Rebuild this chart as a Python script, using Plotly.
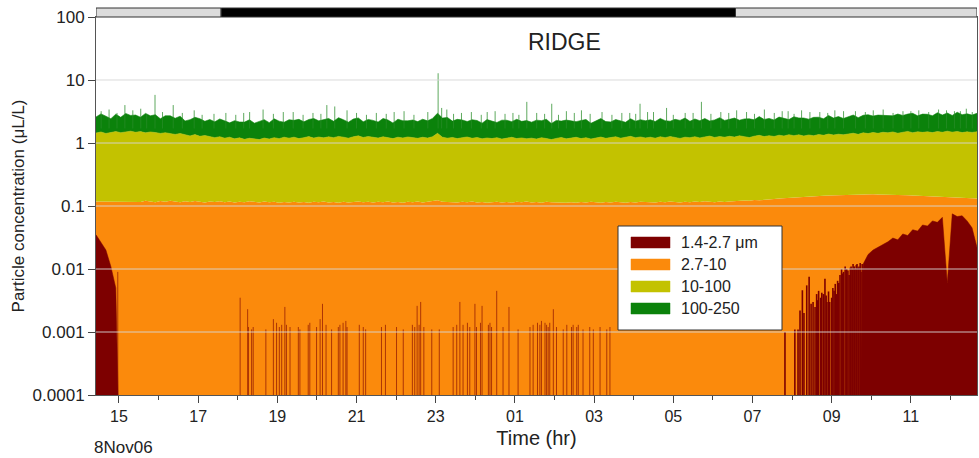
import numpy as np
import plotly.graph_objects as go

# ---------------------------------------------------------------------------
# Data: particle volume concentration by size class (uL/L), RIDGE site,
# 8 Nov 2006 14:25 to 9 Nov 12:40. Time in hours from midnight 8 Nov.
# ---------------------------------------------------------------------------
t_start, t_step, n_samples = 14.42, 0.125, 179
hours = t_start + t_step * np.arange(n_samples)

# 1.4-2.7 um (continuous episodes; isolated counts listed separately)
red_v = [
    0.035, 0.026, 0.02, 0.011, 0.005, 0, 0, 0,
    0, 0, 0, 0, 0, 0, 0, 0,
    0, 0, 0, 0, 0, 0, 0, 0,
    0, 0, 0, 0, 0, 0, 0, 0,
    0, 0, 0, 0, 0, 0, 0, 0,
    0, 0, 0, 0, 0, 0, 0, 0,
    0, 0, 0, 0, 0, 0, 0, 0,
    0, 0, 0, 0, 0, 0, 0, 0,
    0, 0, 0, 0, 0, 0, 0, 0,
    0, 0, 0, 0, 0, 0, 0, 0,
    0, 0, 0, 0, 0, 0, 0, 0,
    0, 0, 0, 0, 0, 0, 0, 0,
    0, 0, 0, 0, 0, 0, 0, 0,
    0, 0, 0, 0, 0, 0, 0, 0,
    0, 0, 0, 0, 0, 0, 0, 0,
    0, 0, 0, 0, 0, 0, 0, 0,
    0, 0, 0, 0, 0, 0, 0, 0,
    0, 0, 0, 0, 0, 0, 0, 0,
    0, 0, 0, 0, 0, 0, 0, 0,
    0, 0, 0, 0.012, 0.017, 0.02, 0.022, 0.024,
    0.027, 0.031, 0.029, 0.036, 0.034, 0.042, 0.04, 0.05,
    0.048, 0.058, 0.055, 0.066, 0.006, 0.075, 0.068, 0.07,
    0.058, 0.045, 0.022,
]

# 2.7-10 um
orange_v = [
    0.083, 0.092, 0.098, 0.107, 0.113, 0.118, 0.116, 0.119,
    0.119, 0.116, 0.121, 0.118, 0.115, 0.12, 0.117, 0.121,
    0.118, 0.115, 0.119, 0.116, 0.12, 0.117, 0.114, 0.118,
    0.116, 0.119, 0.115, 0.118, 0.114, 0.117, 0.115, 0.119,
    0.116, 0.114, 0.118, 0.115, 0.117, 0.113, 0.116, 0.114,
    0.117, 0.114, 0.116, 0.113, 0.117, 0.115, 0.118, 0.114,
    0.116, 0.113, 0.117, 0.114, 0.116, 0.118, 0.115, 0.117,
    0.114, 0.117, 0.115, 0.118, 0.114, 0.116, 0.113, 0.117,
    0.115, 0.118, 0.114, 0.116, 0.119, 0.123, 0.117, 0.115,
    0.116, 0.114, 0.117, 0.115, 0.118, 0.114, 0.116, 0.113,
    0.115, 0.117, 0.114, 0.116, 0.113, 0.117, 0.115, 0.118,
    0.114, 0.116, 0.113, 0.117, 0.115, 0.114, 0.116, 0.113,
    0.115, 0.113, 0.116, 0.114, 0.117, 0.115, 0.113, 0.116,
    0.114, 0.117, 0.115, 0.113, 0.116, 0.114, 0.117, 0.115,
    0.116, 0.114, 0.117, 0.115, 0.118, 0.116, 0.114, 0.117,
    0.115, 0.118, 0.116, 0.119, 0.117, 0.115, 0.118, 0.116,
    0.118, 0.12, 0.119, 0.122, 0.121, 0.124, 0.123, 0.126,
    0.127, 0.129, 0.131, 0.133, 0.135, 0.137, 0.139, 0.141,
    0.142, 0.144, 0.145, 0.146, 0.147, 0.148, 0.149, 0.15,
    0.149, 0.15, 0.151, 0.14, 0.135, 0.133, 0.13, 0.128,
    0.124, 0.119, 0.121, 0.113, 0.114, 0.105, 0.106, 0.095,
    0.096, 0.085, 0.087, 0.074, 0.133, 0.063, 0.068, 0.065,
    0.076, 0.088, 0.11,
]

# 10-100 um
yellow_v = [
    1.32, 1.38, 1.30, 1.36, 1.40, 1.34, 1.38, 1.42,
    1.36, 1.40, 1.33, 1.38, 1.35, 1.30, 1.34, 1.28,
    1.25, 1.30, 1.22, 1.18, 1.24, 1.16, 1.20, 1.14,
    1.10, 1.14, 1.08, 1.12, 1.05, 1.09, 1.03, 1.07,
    1.05, 1.02, 1.08, 1.04, 1.10, 1.06, 1.12, 1.08,
    1.12, 1.06, 1.10, 1.15, 1.08, 1.13, 1.09, 1.14,
    1.10, 1.16, 1.12, 1.08, 1.14, 1.18, 1.11, 1.15,
    1.12, 1.08, 1.14, 1.10, 1.06, 1.12, 1.09, 1.13,
    1.10, 1.07, 1.12, 1.08, 1.14, 1.30, 1.12, 1.08,
    1.11, 1.06, 1.10, 1.13, 1.07, 1.11, 1.05, 1.09,
    1.06, 1.10, 1.04, 1.08, 1.12, 1.06, 1.09, 1.05,
    1.08, 1.04, 1.10, 1.06, 1.02, 1.07, 1.11, 1.05,
    1.08, 1.12, 1.06, 1.10, 1.04, 1.09, 1.13, 1.07,
    1.10, 1.14, 1.08, 1.12, 1.16, 1.10, 1.13, 1.09,
    1.12, 1.08, 1.14, 1.10, 1.15, 1.11, 1.07, 1.12,
    1.10, 1.14, 1.09, 1.13, 1.17, 1.11, 1.15, 1.12,
    1.16, 1.12, 1.18, 1.14, 1.10, 1.16, 1.20, 1.14,
    1.18, 1.14, 1.20, 1.16, 1.22, 1.17, 1.21, 1.15,
    1.20, 1.16, 1.22, 1.18, 1.24, 1.19, 1.23, 1.20,
    1.24, 1.28, 1.22, 1.30, 1.26, 1.32, 1.27, 1.33,
    1.30, 1.35, 1.28, 1.34, 1.38, 1.31, 1.36, 1.33,
    1.36, 1.32, 1.38, 1.34, 1.40, 1.35, 1.39, 1.33,
    1.37, 1.34, 1.38,
]

# 100-250 um
green_v = [
    1.15, 1.40, 1.25, 0.95, 1.35, 1.10, 1.45, 1.20,
    1.30, 1.05, 1.50, 1.20, 1.35, 1.00, 1.25, 1.30,
    1.10, 1.25, 0.90, 1.05, 1.20, 1.15, 0.90, 1.10,
    0.95, 1.15, 1.05, 0.85, 1.10, 0.95, 1.00, 1.15,
    0.90, 1.10, 1.15, 0.95, 1.20, 1.05, 0.90, 1.15,
    1.05, 1.20, 0.95, 1.10, 1.25, 1.00, 1.15, 1.20,
    1.00, 1.25, 1.10, 0.95, 1.15, 1.20, 0.95, 1.10,
    1.05, 0.95, 1.20, 1.10, 0.90, 1.15, 1.05, 1.00,
    1.10, 1.00, 1.15, 1.05, 1.20, 1.55, 1.25, 1.35,
    1.00, 1.20, 1.10, 0.95, 1.15, 1.05, 0.90, 1.15,
    1.05, 0.90, 1.15, 1.10, 0.95, 1.20, 1.00, 1.10,
    0.95, 1.15, 1.05, 1.20, 0.90, 1.10, 1.00, 1.15,
    1.05, 0.95, 1.10, 1.15, 0.90, 1.05, 1.20, 1.00,
    0.95, 1.10, 1.05, 0.90, 1.15, 1.00, 1.10, 1.05,
    1.10, 1.00, 1.20, 1.05, 0.95, 1.15, 1.10, 1.25,
    1.00, 1.15, 1.05, 1.20, 0.95, 1.10, 1.25, 1.05,
    1.10, 1.25, 1.00, 1.15, 1.20, 1.05, 1.30, 1.10,
    1.15, 1.05, 1.25, 1.20, 1.00, 1.30, 1.15, 1.20,
    1.05, 1.25, 1.20, 1.10, 1.35, 1.15, 1.25, 1.10,
    1.20, 1.35, 1.15, 1.30, 1.40, 1.20, 1.35, 1.25,
    1.30, 1.20, 1.45, 1.25, 1.35, 1.50, 1.20, 1.40,
    1.35, 1.25, 1.50, 1.30, 1.45, 1.25, 1.55, 1.35,
    1.40, 1.30, 1.45,
]

# Isolated 1.4-2.7 um detections during the night (time, concentration)
red_spike_t = [
    18.06, 18.25, 18.27, 18.35, 18.39, 18.71, 18.90, 18.98, 19.05, 19.11,
    19.19, 19.23, 19.32, 19.53, 19.57, 19.78, 19.82, 19.99, 20.08, 20.14,
    20.23, 20.37, 20.54, 20.58, 20.66, 20.73, 20.76, 21.07, 21.17, 21.23,
    21.63, 21.73, 22.01, 22.18, 22.41, 22.47, 22.53, 22.58, 22.62, 22.70,
    22.90, 23.09, 23.44, 23.53, 23.61, 23.69, 23.80, 23.86, 23.99, 24.03,
    24.13, 24.17, 24.33, 24.37, 24.41, 24.54, 24.70, 24.85, 25.08, 25.38,
    25.46, 25.57, 25.63, 25.67, 25.76, 25.80, 25.84, 25.88, 25.97, 26.05,
    26.22, 26.31, 26.43, 26.47, 26.56, 26.60, 26.72, 26.89, 26.98, 27.15,
    27.32, 27.40, 14.97,
]
red_spike_v = [
    0.0035, 0.0023, 0.0012, 0.0011, 0.0012, 0.0011, 0.0016, 0.0014, 0.0012, 0.0013,
    0.0025, 0.0013, 0.0012, 0.0012, 0.0011, 0.0013, 0.0014, 0.0012, 0.0016, 0.0028,
    0.0013, 0.0011, 0.0012, 0.0013, 0.0014, 0.0015, 0.0012, 0.0013, 0.0012, 0.0011,
    0.0012, 0.0013, 0.0012, 0.0011, 0.0013, 0.0012, 0.0026, 0.0013, 0.0030, 0.0012,
    0.0011, 0.0011, 0.0012, 0.0013, 0.0030, 0.0013, 0.0014, 0.0012, 0.0028, 0.0012,
    0.0014, 0.0026, 0.0013, 0.0014, 0.0012, 0.0045, 0.0012, 0.0025, 0.0011, 0.0012,
    0.0013, 0.0014, 0.0013, 0.0015, 0.0014, 0.0013, 0.0012, 0.0014, 0.0023, 0.0012,
    0.0011, 0.0013, 0.0012, 0.0013, 0.0012, 0.0013, 0.0011, 0.0012, 0.0011, 0.0012,
    0.0011, 0.0012, 0.0090,
]

# Morning onset of 1.4-2.7 um particles (time, concentration)
dawn_spike_t = [
    31.82, 32.07, 32.15, 32.20, 32.26, 32.30, 32.37, 32.43, 32.48, 32.53,
    32.58, 32.62, 32.64, 32.67, 32.72, 32.75, 32.79, 32.83, 32.86, 32.88,
    32.92, 32.95, 33.00, 33.03, 33.06, 33.09, 33.12, 33.15, 33.18, 33.21,
    33.25, 33.28, 33.30, 33.34, 33.38, 33.41, 33.44, 33.47, 33.49, 33.52,
    33.54, 33.57, 33.59, 33.62, 33.64, 33.67, 33.69, 33.72, 33.74, 33.77,
]
dawn_spike_v = [
    0.0010, 0.0011, 0.0011, 0.0022, 0.0046, 0.0020, 0.0055, 0.0075, 0.0028, 0.0030,
    0.0025, 0.0040, 0.0032, 0.0045, 0.0035, 0.0042, 0.0040, 0.0070, 0.0038, 0.0030,
    0.0044, 0.0030, 0.0035, 0.0050, 0.0045, 0.0058, 0.0040, 0.0065, 0.0060, 0.0080,
    0.0100, 0.0085, 0.0090, 0.0110, 0.0100, 0.0095, 0.0080, 0.0105, 0.0110, 0.0098,
    0.0120, 0.0110, 0.0100, 0.0115, 0.0120, 0.0105, 0.0110, 0.0125, 0.0090, 0.0120,
]

# Short bursts in total concentration (time, total uL/L)
green_spike_t = [
    14.75, 15.15, 15.55, 15.91, 16.37, 16.9, 17.7, 18.3, 18.64, 19.4,
    20.25, 20.45, 20.76, 21.5, 22.2, 22.8, 23.06, 23.15, 23.28, 23.9,
    24.5, 24.95, 25.30, 25.93, 26.3, 26.68, 27.2, 27.7, 28.16, 28.5,
    28.83, 29.3, 29.71, 30.2, 30.6, 31.3, 31.9, 32.24, 32.7, 33.08,
    33.6, 34.3, 34.8, 35.2, 35.7, 36.1, 36.4,
    14.55, 14.95, 15.35, 15.7, 16.1, 16.6, 17.1, 17.4, 17.95, 18.15,
    18.9, 19.15, 19.65, 19.9, 20.1, 21.0, 21.25, 21.75, 21.95, 22.45,
    23.45, 23.65, 24.15, 24.3, 24.75, 25.1, 25.55, 25.75, 26.1, 26.5,
    26.9, 27.45, 27.9, 28.05, 28.35, 29.0, 29.5, 29.95, 30.4, 30.85,
    31.05, 31.55, 31.75, 32.05, 32.45, 32.9, 33.3, 33.85, 34.05, 34.55,
    35.0, 35.45, 35.9, 36.25, 36.55,
]
green_spike_total = [
    3.4, 4.0, 3.5, 5.8, 4.0, 3.3, 3.0, 3.1, 3.4, 3.1,
    4.0, 3.8, 3.3, 3.0, 3.2, 3.1, 12.8, 3.6, 3.4, 3.1,
    3.2, 3.0, 4.5, 4.2, 3.2, 3.3, 3.1, 3.0, 4.2, 3.1,
    3.6, 3.0, 4.5, 3.1, 3.3, 3.4, 3.2, 3.3, 3.1, 3.3,
    3.2, 3.4, 3.2, 3.3, 3.4, 3.2, 3.5,
    3.2, 3.0, 3.3, 2.9, 3.1, 3.0, 2.8, 2.9, 2.8, 3.0,
    2.9, 3.1, 2.8, 3.0, 2.9, 3.0, 2.8, 2.9, 3.1, 2.8,
    2.9, 3.0, 2.8, 3.1, 2.9, 2.8, 3.0, 2.9, 2.8, 3.0,
    2.9, 2.8, 3.0, 2.9, 3.1, 2.8, 3.0, 2.9, 3.0, 3.1,
    2.9, 3.0, 3.2, 2.9, 3.1, 3.0, 3.2, 3.1, 3.3, 3.0,
    3.2, 3.1, 3.3, 3.2, 3.1,
]

size_classes = ["1.4-2.7 \u03bcm", "2.7-10", "10-100", "100-250"]
class_colors = ["#7d0000", "#fb8a0c", "#c3c200", "#0b820b"]

x_range = [14.42, 36.67]
x_tickvals = [15, 17, 19, 21, 23, 25, 27, 29, 31, 33, 35]
x_ticktext = ["15", "17", "19", "21", "23", "01", "03", "05", "07", "09", "11"]
x_minor = [16, 18, 20, 22, 24, 26, 28, 30, 32, 34, 36]
y_tickvals = [0.0001, 0.001, 0.01, 0.1, 1, 10, 100]
y_ticktext = ["0.0001", "0.001", "0.01", "0.1", "1", "10", "100"]

# Dark period (sunset / sunrise), hours
night_start, night_end = 17.58, 30.57

# ---------------------------------------------------------------------------
FONT = "Arial, 'Liberation Sans', sans-serif"
W, H = 979, 458
ML, MR, MT, MB = 96, 2, 17, 63
PW, PH = W - ML - MR, H - MT - MB


def px_x(px):
    return (px - ML) / PW


def px_y(py):
    return (H - MB - py) / PH


red = np.array(red_v)
orange_top = red + np.array(orange_v)
yellow_top = orange_top + np.array(yellow_v)
green_top = yellow_top + np.array(green_v)
floor = np.full(n_samples, 1e-6)
red_draw = np.where(red > 0, red, 1e-6)

fig = go.Figure()


def base_trace():
    return go.Scatter(x=hours, y=floor, mode="lines", line=dict(width=0),
                      showlegend=False, hoverinfo="skip")


def stroke_paths(ts, lows, highs):
    xs, ys = [], []
    for t, lo, hi in zip(ts, lows, highs):
        xs += [t, t, None]
        ys += [lo, hi, None]
    return xs, ys


fig.add_trace(base_trace())
fig.add_trace(go.Scatter(x=hours, y=orange_top, mode="lines", fill="tonexty",
                         fillcolor=class_colors[1], line=dict(width=0, color=class_colors[1]),
                         name=size_classes[1], showlegend=False))
fig.add_trace(go.Scatter(x=hours, y=yellow_top, mode="lines", fill="tonexty",
                         fillcolor=class_colors[2], line=dict(width=0.6, color=class_colors[2]),
                         name=size_classes[2], showlegend=False))
fig.add_trace(go.Scatter(x=hours, y=green_top, mode="lines", fill="tonexty",
                         fillcolor=class_colors[3], line=dict(width=0.6, color=class_colors[3]),
                         name=size_classes[3], showlegend=False))
fig.add_trace(base_trace())
fig.add_trace(go.Scatter(x=hours, y=red_draw, mode="lines", fill="tonexty",
                         fillcolor=class_colors[0],
                         line=dict(width=0.5, color=class_colors[0]),
                         name=size_classes[0], showlegend=False))

# isolated small-particle detections as thin vertical strokes
sx, sy = stroke_paths(red_spike_t, [1e-6] * len(red_spike_t), red_spike_v)
fig.add_trace(go.Scatter(x=sx, y=sy, mode="lines",
                         line=dict(width=1, color="rgba(125,0,0,0.62)"),
                         showlegend=False, hoverinfo="skip"))
dx, dy = stroke_paths(dawn_spike_t, [1e-6] * len(dawn_spike_t), dawn_spike_v)
fig.add_trace(go.Scatter(x=dx, y=dy, mode="lines",
                         line=dict(width=1.6, color=class_colors[0]),
                         showlegend=False, hoverinfo="skip"))

# short bursts of large particles
gx, gy = stroke_paths(green_spike_t, [1.7] * len(green_spike_t), green_spike_total)
fig.add_trace(go.Scatter(x=gx, y=gy, mode="lines",
                         line=dict(width=1, color="rgba(40,140,40,0.75)"),
                         showlegend=False, hoverinfo="skip"))

# decade grid lines drawn over the filled areas
lx, ly = [], []
for v in y_tickvals[1:-1]:
    lx += [x_range[0], x_range[1], None]
    ly += [v, v, None]
fig.add_trace(go.Scatter(x=lx, y=ly, mode="lines",
                         line=dict(width=1, color="rgba(214,214,214,0.9)"),
                         showlegend=False, hoverinfo="skip"))

shapes = []
# light / dark bar above the plot
bar_h = 9 / PH
for x0, x1, col in [(x_range[0], night_start, "#dcdcdc"),
                    (night_start, night_end, "#000000"),
                    (night_end, x_range[1], "#dcdcdc")]:
    shapes.append(dict(type="rect", xref="x", yref="paper", x0=x0, x1=x1,
                       y0=1.0, y1=1.0 + bar_h, fillcolor=col,
                       line=dict(color="#333333", width=1)))

# legend box
shapes.append(dict(type="rect", xref="paper", yref="paper",
                   x0=px_x(618), x1=px_x(782), y0=px_y(330), y1=px_y(226),
                   fillcolor="white", line=dict(color="#333333", width=1)))
annotations = []
for i, (lab, col) in enumerate(zip(size_classes, class_colors)):
    top = 237 + 22 * i
    shapes.append(dict(type="rect", xref="paper", yref="paper",
                       x0=px_x(631), x1=px_x(670), y0=px_y(top + 11), y1=px_y(top),
                       fillcolor=col, line=dict(color=col, width=0.5)))
    annotations.append(dict(xref="paper", yref="paper", x=px_x(679), y=px_y(top + 5.5),
                            text=lab, showarrow=False, xanchor="left", yanchor="middle",
                            font=dict(family=FONT, size=16, color="#222222")))

annotations.append(dict(xref="x", yref="paper", x=26.26, y=px_y(42), text="RIDGE",
                        showarrow=False, xanchor="center", yanchor="middle",
                        font=dict(family=FONT, size=23, color="#222222")))
annotations.append(dict(xref="paper", yref="paper", x=px_x(92), y=px_y(447), text="8Nov06",
                        showarrow=False, xanchor="left", yanchor="middle",
                        font=dict(family=FONT, size=17, color="#222222")))

fig.update_layout(
    width=W, height=H,
    margin=dict(l=ML, r=MR, t=MT, b=MB),
    paper_bgcolor="white", plot_bgcolor="white",
    font=dict(family=FONT, size=16, color="#222222"),
    showlegend=False,
    shapes=shapes,
    annotations=annotations,
    xaxis=dict(
        range=x_range, tickmode="array", tickvals=x_tickvals, ticktext=x_ticktext,
        ticks="outside", ticklen=7, tickcolor="#444444", tickwidth=1,
        showline=True, linecolor="#555555", linewidth=1, mirror=True,
        showgrid=False, zeroline=False,
        minor=dict(tickvals=x_minor, ticks="outside", ticklen=4, tickcolor="#444444"),
        tickfont=dict(family=FONT, size=16, color="#222222"),
        title=dict(text="Time (hr)", font=dict(family=FONT, size=20, color="#222222"),
                   standoff=6),
    ),
    yaxis=dict(
        type="log", range=[-4, 2], tickmode="array", tickvals=y_tickvals,
        ticktext=y_ticktext, ticks="outside", ticklen=7, tickcolor="#444444",
        showline=True, linecolor="#555555", linewidth=1, mirror=True,
        showgrid=False, zeroline=False,
        tickfont=dict(family=FONT, size=17, color="#222222"),
        title=dict(text="Particle concentration (\u03bcL/L)",
                   font=dict(family=FONT, size=17, color="#222222"), standoff=3),
    ),
)

fig.write_html("out.html")
